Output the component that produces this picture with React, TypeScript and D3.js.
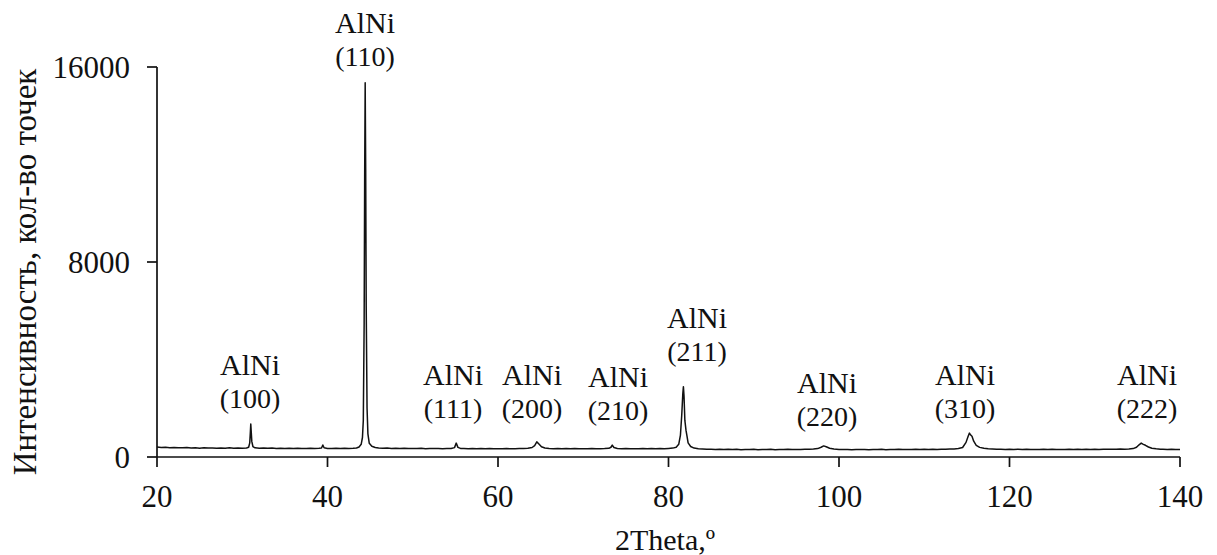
import React from "react";
import * as d3 from "d3";

// ---- data ----
const xTicks = [20, 40, 60, 80, 100, 120, 140];
const yTicks = [0, 8000, 16000];
const xTitle = "2Theta,º";
const yTitle = "Интенсивность, кол-во точек";

// XRD pattern [2θ, intensity]
const pattern: [number, number][] = [
  [20, 410], [20.5, 392], [21, 398], [21.5, 380], [22, 392], [22.5, 383], [23, 375], [23.5, 386], [24, 370], [24.5, 378],
  [25, 364], [25.5, 378], [26, 366], [26.5, 372], [27, 360], [27.5, 370], [28, 364], [28.5, 375], [29, 358], [29.5, 368],
  [30, 362], [30.5, 372], [30.75, 400], [30.88, 580], [30.95, 1000], [31.0, 1350], [31.05, 1050], [31.12, 640], [31.25, 430], [31.5, 375],
  [32, 360], [32.5, 368], [33, 355], [33.5, 365], [34, 352], [34.5, 362], [35, 350], [35.5, 360], [36, 348], [36.5, 358],
  [37, 352], [37.5, 345], [38, 356], [38.5, 350], [39, 358], [39.3, 370], [39.45, 490], [39.6, 380], [40, 352], [40.5, 345],
  [41, 355], [41.5, 348], [42, 356], [42.5, 350], [43, 360], [43.4, 372], [43.7, 410], [43.95, 520], [44.1, 800], [44.2, 1500],
  [44.3, 5500], [44.36, 11500], [44.42, 15350], [44.48, 11800], [44.54, 6200], [44.64, 2000], [44.74, 950], [44.9, 560], [45.2, 440], [45.6, 390],
  [46, 370], [46.5, 360], [47, 365], [47.5, 352], [48, 360], [48.5, 350], [49, 356], [49.5, 345], [50, 352], [50.5, 346],
  [51, 355], [51.5, 342], [52, 350], [52.5, 345], [53, 352], [53.5, 340], [54, 350], [54.5, 348], [54.9, 385], [55.1, 570],
  [55.3, 395], [55.6, 352], [56, 345], [56.5, 340], [57, 348], [57.5, 335], [58, 345], [58.5, 338], [59, 346], [59.5, 335],
  [60, 342], [60.5, 338], [61, 345], [61.5, 336], [62, 342], [62.5, 345], [63, 350], [63.5, 362], [64, 390], [64.3, 470],
  [64.55, 620], [64.8, 530], [65.1, 420], [65.5, 370], [66, 352], [66.5, 342], [67, 348], [67.5, 336], [68, 345], [68.5, 338],
  [69, 344], [69.5, 334], [70, 342], [70.5, 336], [71, 345], [71.5, 338], [72, 342], [72.5, 345], [73, 355], [73.25, 400],
  [73.4, 490], [73.6, 390], [74, 350], [74.5, 338], [75, 345], [75.5, 335], [76, 342], [76.5, 336], [77, 346], [77.5, 338],
  [78, 345], [78.5, 340], [79, 348], [79.5, 342], [80, 352], [80.5, 365], [80.9, 400], [81.2, 520], [81.4, 900], [81.55, 1700],
  [81.68, 2600], [81.75, 2885], [81.82, 2500], [81.92, 1500], [82.05, 1100], [82.15, 900], [82.3, 580], [82.6, 430], [83, 365], [83.5, 340],
  [84, 330], [84.5, 318], [85, 322], [85.5, 310], [86, 316], [86.5, 306], [87, 314], [87.5, 305], [88, 316], [88.5, 302],
  [89, 312], [89.5, 306], [90, 314], [90.5, 300], [91, 310], [91.5, 304], [92, 314], [92.5, 302], [93, 310], [93.5, 305],
  [94, 314], [94.5, 303], [95, 312], [95.5, 306], [96, 314], [96.5, 318], [97, 325], [97.5, 345], [97.9, 400], [98.2, 455],
  [98.5, 420], [98.9, 360], [99.4, 325], [100, 312], [100.5, 304], [101, 312], [101.5, 300], [102, 310], [102.5, 304], [103, 312],
  [103.5, 300], [104, 310], [104.5, 305], [105, 314], [105.5, 302], [106, 312], [106.5, 306], [107, 316], [107.5, 304], [108, 312],
  [108.5, 306], [109, 316], [109.5, 308], [110, 315], [110.5, 310], [111, 318], [111.5, 312], [112, 320], [112.5, 318], [113, 325],
  [113.5, 332], [114, 348], [114.5, 390], [114.9, 600], [115.15, 850], [115.3, 980], [115.45, 900], [115.6, 850], [115.8, 650], [116.1, 480],
  [116.5, 395], [117, 355], [117.5, 335], [118, 325], [118.5, 318], [119, 322], [119.5, 312], [120, 318], [120.5, 310], [121, 316],
  [121.5, 308], [122, 314], [122.5, 306], [123, 312], [123.5, 305], [124, 313], [124.5, 307], [125, 315], [125.5, 306], [126, 312],
  [126.5, 308], [127, 316], [127.5, 310], [128, 315], [128.5, 308], [129, 316], [129.5, 310], [130, 318], [130.5, 312], [131, 320],
  [131.5, 315], [132, 322], [132.5, 318], [133, 325], [133.5, 322], [134, 330], [134.5, 345], [134.9, 400], [135.2, 500], [135.45, 570],
  [135.7, 520], [135.95, 480], [136.3, 410], [136.7, 360], [137.2, 335], [137.7, 322], [138, 318], [138.5, 310], [139, 316], [139.5, 308],
  [140, 312],
];

// peak annotations
const peakPhase = ["AlNi", "AlNi", "AlNi", "AlNi", "AlNi", "AlNi", "AlNi", "AlNi", "AlNi"];
const peakHkl = ["(100)", "(110)", "(111)", "(200)", "(210)", "(211)", "(220)", "(310)", "(222)"];
const labelAngle = [30.91, 44.4, 54.72, 63.99, 74.08, 83.34, 98.59, 114.78, 136.13];
const labelLevel = [3364, 17395, 2954, 2954, 2872, 5293, 2626, 2954, 2954];

// ---- layout ----
const W = 1217;
const H = 555;
const left = 157;
const right = 1180;
const top = 67;
const bottom = 457;
const FONT = "'Liberation Serif', 'Times New Roman', serif";

export default function App() {
  const x = d3.scaleLinear().domain([20, 140]).range([left, right]);
  const y = d3.scaleLinear().domain([0, 16000]).range([bottom, top]);
  const line = d3
    .line<[number, number]>()
    .x((d) => x(d[0]))
    .y((d) => y(d[1]));

  return (
    <svg
      width={W}
      height={H}
      style={{ position: "absolute", left: 0, top: 0, background: "#fff" }}
      fontFamily={FONT}
    >
      <rect x={0} y={0} width={W} height={H} fill="#fff" />
      {/* data line */}
      <path d={line(pattern) || ""} fill="none" stroke="#111" strokeWidth={1.5} strokeLinejoin="round" />

      {/* axes */}
      <line x1={left} x2={left} y1={y(16000)} y2={bottom} stroke="#111" strokeWidth={1.7} />
      <line x1={left} x2={right} y1={bottom} y2={bottom} stroke="#111" strokeWidth={1.7} />
      {yTicks.map((t) => (
        <g key={"y" + t}>
          <line x1={left - 10} x2={left} y1={y(t)} y2={y(t)} stroke="#111" strokeWidth={1.7} />
          <text x={130} y={y(t)} dy="0.35em" textAnchor="end" fontSize={31} fill="#111">
            {t}
          </text>
        </g>
      ))}
      {xTicks.map((t) => (
        <g key={"x" + t}>
          <line x1={x(t)} x2={x(t)} y1={bottom} y2={bottom + 10} stroke="#111" strokeWidth={1.7} />
          <text x={x(t)} y={507} textAnchor="middle" fontSize={31} fill="#111">
            {t}
          </text>
        </g>
      ))}

      {/* axis titles */}
      <text x={665} y={550} textAnchor="middle" fontSize={30} fill="#111">
        {xTitle}
      </text>
      <text
        transform={`translate(36, 272) rotate(-90)`}
        textAnchor="middle"
        fontSize={33}
        fill="#111"
      >
        {yTitle}
      </text>

      {/* peak labels */}
      {peakHkl.map((h, i) => (
        <g key={h}>
          <text x={x(labelAngle[i])} y={y(labelLevel[i])} textAnchor="middle" fontSize={30} fill="#111">
            {peakPhase[i]}
          </text>
          <text x={x(labelAngle[i])} y={y(labelLevel[i]) + 33} textAnchor="middle" fontSize={28} fill="#111">
            {h}
          </text>
        </g>
      ))}
    </svg>
  );
}
